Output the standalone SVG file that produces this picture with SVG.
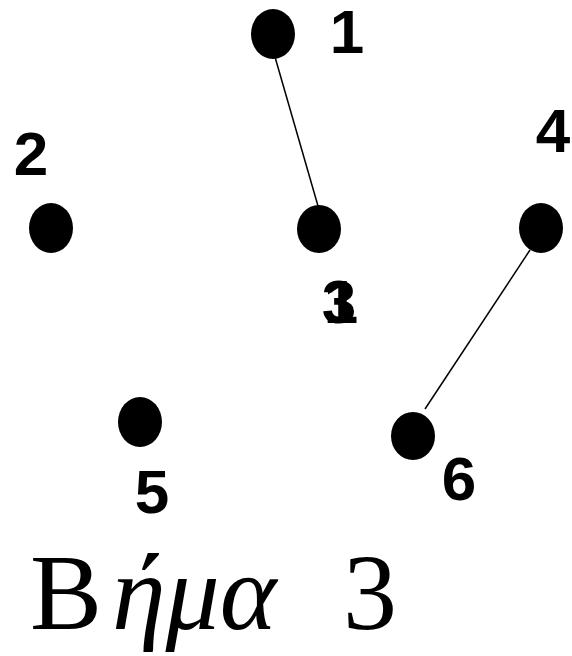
<svg xmlns="http://www.w3.org/2000/svg" width="572" height="656" viewBox="0 0 572 656">
<style>
.node{fill:#000}
.lbl{font-family:"Liberation Sans",Arial,sans-serif;font-weight:bold;font-size:62px;fill:#000;text-anchor:middle}
.edge{stroke:#000;stroke-width:1.5;fill:none}
.cap{font-family:"Liberation Serif","Times New Roman",serif;font-size:108px;fill:#000}
</style>
<rect width="572" height="656" fill="#fff"/>
<g id="connectors">
<line class="edge" x1="275" y1="57" x2="318" y2="206"/>
<line class="edge" x1="530" y1="250" x2="425" y2="409"/>
</g>
<g id="node1"><ellipse class="node" cx="273" cy="34" rx="22" ry="25"/><text class="lbl" x="347" y="53">1</text></g>
<g id="node2"><ellipse class="node" cx="51" cy="228" rx="22" ry="25"/><text class="lbl" x="31" y="175">2</text></g>
<g id="node3"><ellipse class="node" cx="319" cy="229" rx="22" ry="24"/><text class="lbl" x="339" y="323">3</text><text class="lbl" x="341" y="323">1</text></g>
<g id="node4"><ellipse class="node" cx="541" cy="228" rx="22" ry="25"/><text class="lbl" x="553" y="152">4</text></g>
<g id="node5"><ellipse class="node" cx="140" cy="422" rx="22" ry="25"/><text class="lbl" x="152" y="513">5</text></g>
<g id="node6"><ellipse class="node" cx="413" cy="436" rx="22" ry="24"/><text class="lbl" x="459" y="500">6</text></g>
<g id="caption">
<text class="cap" x="30" y="629">Β<tspan x="112" font-style="italic">ήμα</tspan><tspan x="343">3</tspan></text>
</g>
</svg>
